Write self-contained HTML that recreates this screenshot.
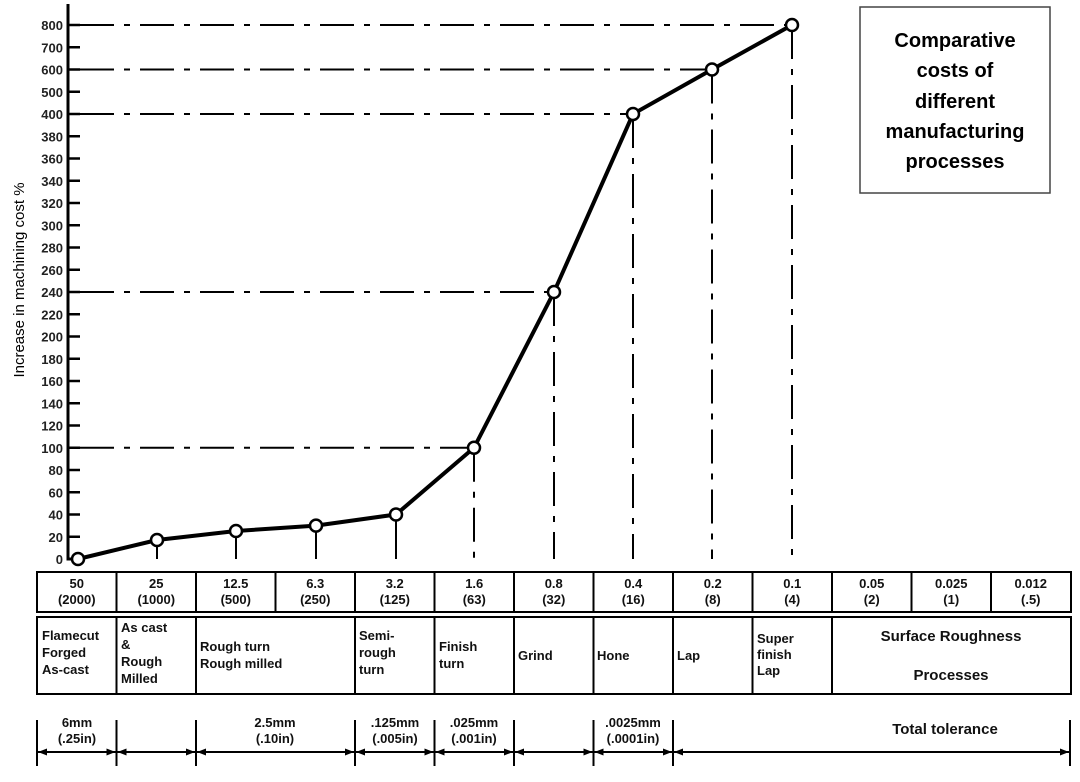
<!DOCTYPE html>
<html><head><meta charset="utf-8"><style>
html,body{margin:0;padding:0;background:#fff}
svg{display:block;font-family:"Liberation Sans",Arial,sans-serif}
</style></head><body>
<svg width="1080" height="782" viewBox="0 0 1080 782" xmlns="http://www.w3.org/2000/svg">
<rect width="1080" height="782" fill="#fff"/>
<path d="M68,4 L68,559 L76,559" fill="none" stroke="#000" stroke-width="3"/>
<g stroke="#000" stroke-width="2.5" id="ticks"></g>
<g font-size="13" font-weight="bold" fill="#222" text-anchor="end" id="ylabels"></g>
<text transform="translate(24,280) rotate(-90)" text-anchor="middle" font-size="15">Increase in machining cost %</text>
<g stroke="#000" stroke-width="2" fill="none" stroke-dasharray="34 10 6 10">
<line x1="80" y1="25" x2="792" y2="25"/>
<line x1="80" y1="69.5" x2="712" y2="69.5"/>
<line x1="80" y1="114" x2="633" y2="114"/>
<line x1="80" y1="292" x2="554" y2="292"/>
<line x1="80" y1="447.75" x2="474" y2="447.75"/>
<line x1="792" y1="25" x2="792" y2="559"/>
<line x1="712" y1="69.5" x2="712" y2="559"/>
<line x1="633" y1="114" x2="633" y2="559"/>
<line x1="554" y1="292" x2="554" y2="559"/>
<line x1="474" y1="447.75" x2="474" y2="559"/>
</g>
<g stroke="#000" stroke-width="2">
<line x1="157" y1="540" x2="157" y2="559"/>
<line x1="236" y1="531" x2="236" y2="559"/>
<line x1="316" y1="525" x2="316" y2="559"/>
<line x1="396" y1="514" x2="396" y2="559"/>
</g>
<polyline points="78,559 157,540 236,531 316,525.6 396,514.5 474,447.75 554,292 633,114 712,69.5 792,25" fill="none" stroke="#000" stroke-width="4" stroke-linejoin="round"/>
<g fill="#fff" stroke="#000" stroke-width="2.5">
<circle cx="78" cy="559" r="6"/><circle cx="157" cy="540" r="6"/><circle cx="236" cy="531" r="6"/><circle cx="316" cy="525.6" r="6"/><circle cx="396" cy="514.5" r="6"/><circle cx="474" cy="447.75" r="6"/><circle cx="554" cy="292" r="6"/><circle cx="633" cy="114" r="6"/><circle cx="712" cy="69.5" r="6"/><circle cx="792" cy="25" r="6"/>
</g>
<rect x="860" y="7" width="190" height="186" fill="none" stroke="#444" stroke-width="1.5"/>
<g font-size="20" font-weight="bold" text-anchor="middle">
<text x="955" y="47">Comparative</text>
<text x="955" y="77">costs of</text>
<text x="955" y="108">different</text>
<text x="955" y="138">manufacturing</text>
<text x="955" y="168">processes</text>
</g>
<rect x="37" y="572" width="1034" height="40" fill="none" stroke="#000" stroke-width="2"/>
<g stroke="#000" stroke-width="2" id="r1"></g>
<g font-size="13" font-weight="bold" text-anchor="middle" fill="#111" id="r1t"></g>
<rect x="37" y="617" width="1034" height="77" fill="none" stroke="#000" stroke-width="2"/>
<g stroke="#000" stroke-width="2">
<line x1="116.5" y1="617" x2="116.5" y2="694"/>
<line x1="196" y1="617" x2="196" y2="694"/>
<line x1="355" y1="617" x2="355" y2="694"/>
<line x1="434.5" y1="617" x2="434.5" y2="694"/>
<line x1="514" y1="617" x2="514" y2="694"/>
<line x1="593.5" y1="617" x2="593.5" y2="694"/>
<line x1="673" y1="617" x2="673" y2="694"/>
<line x1="752.5" y1="617" x2="752.5" y2="694"/>
<line x1="832" y1="617" x2="832" y2="694"/>
</g>
<g font-size="13" font-weight="bold" fill="#111">
<text x="42" y="640">Flamecut</text><text x="42" y="657">Forged</text><text x="42" y="674">As-cast</text>
<text x="121" y="632">As cast</text><text x="121" y="649">&amp;</text><text x="121" y="666">Rough</text><text x="121" y="683">Milled</text>
<text x="200" y="651">Rough turn</text><text x="200" y="668">Rough milled</text>
<text x="359" y="640">Semi-</text><text x="359" y="657">rough</text><text x="359" y="674">turn</text>
<text x="439" y="651">Finish</text><text x="439" y="668">turn</text>
<text x="518" y="660">Grind</text>
<text x="597" y="660">Hone</text>
<text x="677" y="660">Lap</text>
<text x="757" y="643">Super</text><text x="757" y="659">finish</text><text x="757" y="675">Lap</text>
<text x="951" y="641" font-size="15" text-anchor="middle">Surface Roughness</text>
<text x="951" y="680" font-size="15" text-anchor="middle">Processes</text>
</g>
<g stroke="#000" stroke-width="2">
<line x1="37" y1="720" x2="37" y2="766"/>
<line x1="116.5" y1="720" x2="116.5" y2="766"/>
<line x1="196" y1="720" x2="196" y2="766"/>
<line x1="355" y1="720" x2="355" y2="766"/>
<line x1="434.5" y1="720" x2="434.5" y2="766"/>
<line x1="514" y1="720" x2="514" y2="766"/>
<line x1="593.5" y1="720" x2="593.5" y2="766"/>
<line x1="673" y1="720" x2="673" y2="766"/>
<line x1="1070" y1="720" x2="1070" y2="766"/>
</g>
<g id="arrows"></g>
<g font-size="13" font-weight="bold" text-anchor="middle" fill="#111">
<text x="77" y="727">6mm</text><text x="77" y="743">(.25in)</text>
<text x="275" y="727">2.5mm</text><text x="275" y="743">(.10in)</text>
<text x="395" y="727">.125mm</text><text x="395" y="743">(.005in)</text>
<text x="474" y="727">.025mm</text><text x="474" y="743">(.001in)</text>
<text x="633" y="727">.0025mm</text><text x="633" y="743">(.0001in)</text>
<text x="945" y="734" font-size="15">Total tolerance</text>
</g>
<script>
(function(){
var ns="http://www.w3.org/2000/svg";
function el(n,a,p){var e=document.createElementNS(ns,n);for(var k in a)e.setAttribute(k,a[k]);p.appendChild(e);return e;}
var vals=[0,20,40,60,80,100,120,140,160,180,200,220,240,260,280,300,320,340,360,380,400,500,600,700,800];
var t=document.getElementById("ticks"),l=document.getElementById("ylabels");
vals.forEach(function(v,i){var y=559-i*22.25;
 el("line",{x1:68,x2:80,y1:y,y2:y},t);
 el("text",{x:63,y:y+5},l).textContent=v;});
var r1=document.getElementById("r1"),r1t=document.getElementById("r1t");
var a=["50","25","12.5","6.3","3.2","1.6","0.8","0.4","0.2","0.1","0.05","0.025","0.012"];
var b=["(2000)","(1000)","(500)","(250)","(125)","(63)","(32)","(16)","(8)","(4)","(2)","(1)","(.5)"];
for(var k=0;k<13;k++){var x0=37+k*79.5,cx=x0+39.75;
 if(k>0)el("line",{x1:x0,x2:x0,y1:572,y2:612},r1);
 el("text",{x:cx,y:588},r1t).textContent=a[k];
 el("text",{x:cx,y:604},r1t).textContent=b[k];}
var ar=document.getElementById("arrows");
var segs=[[37,116.5],[116.5,196],[196,355],[355,434.5],[434.5,514],[514,593.5],[593.5,673],[673,1070]];
segs.forEach(function(s){var x1=s[0]+1,x2=s[1]-1,y=752;
 el("line",{x1:x1,x2:x2,y1:y,y2:y,stroke:"#000","stroke-width":2},ar);
 el("polygon",{points:x1+","+y+" "+(x1+9)+","+(y-3.5)+" "+(x1+9)+","+(y+3.5),fill:"#000"},ar);
 el("polygon",{points:x2+","+y+" "+(x2-9)+","+(y-3.5)+" "+(x2-9)+","+(y+3.5),fill:"#000"},ar);});
})();
</script>
</svg>
</body></html>
